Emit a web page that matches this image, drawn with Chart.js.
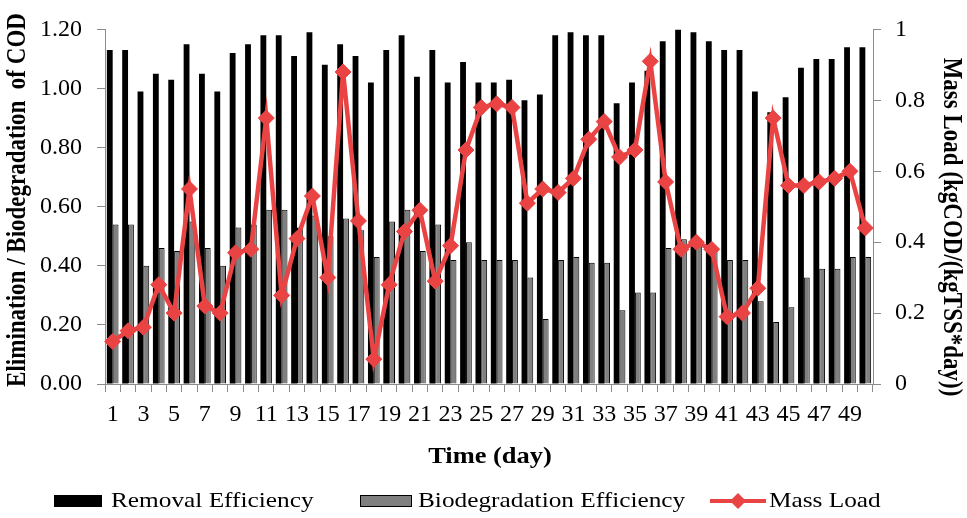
<!DOCTYPE html>
<html>
<head>
<meta charset="utf-8">
<script src="https://cdn.jsdelivr.net/npm/chart.js@4.4.1/dist/chart.umd.min.js"></script>
<style>
  html, body { margin: 0; padding: 0; background: #fff; }
  #wrap { width: 967px; height: 518px; }
</style>
</head>
<body>
<div id="wrap"><canvas id="codChart" width="967" height="518"></canvas></div>
<script>
// days 1..50
const days = Array.from({ length: 50 }, (_, i) => String(i + 1));

// removal efficiency (left axis)
const removal = [
  1.13, 1.13, 0.99, 1.05, 1.03, 1.15, 1.05, 0.99, 1.12, 1.15,
  1.18, 1.18, 1.11, 1.19, 1.08, 1.15, 1.11, 1.02, 1.13, 1.18,
  1.04, 1.13, 1.02, 1.09, 1.02, 1.02, 1.03, 0.96, 0.98, 1.18,
  1.19, 1.18, 1.18, 0.95, 1.02, 1.06, 1.16, 1.20, 1.19, 1.16,
  1.13, 1.13, 0.99, 0.92, 0.97, 1.07, 1.10, 1.10, 1.14, 1.14
];

// biodegradation efficiency (left axis)
const biodeg = [
  0.54, 0.54, 0.40, 0.46, 0.45, 0.55, 0.46, 0.40, 0.53, 0.54,
  0.59, 0.59, 0.53, 0.57, 0.50, 0.56, 0.52, 0.43, 0.55, 0.59,
  0.45, 0.54, 0.42, 0.48, 0.42, 0.42, 0.42, 0.36, 0.22, 0.42,
  0.43, 0.41, 0.41, 0.25, 0.31, 0.31, 0.46, 0.49, 0.48, 0.46,
  0.42, 0.42, 0.28, 0.21, 0.26, 0.36, 0.39, 0.39, 0.43, 0.43
];

// mass load, kgCOD/(kgTSS*day) (right axis)
const massLoad = [
  0.12, 0.15, 0.16, 0.28, 0.20, 0.55, 0.22, 0.20, 0.37, 0.38,
  0.75, 0.25, 0.41, 0.53, 0.30, 0.88, 0.46, 0.07, 0.28, 0.43,
  0.49, 0.29, 0.39, 0.66, 0.78, 0.79, 0.78, 0.51, 0.55, 0.54,
  0.58, 0.69, 0.74, 0.64, 0.66, 0.91, 0.57, 0.38, 0.40, 0.38,
  0.19, 0.20, 0.27, 0.75, 0.56, 0.56, 0.57, 0.58, 0.60, 0.44
];

const serif = "'Liberation Serif', 'Times New Roman', serif";
const axisGrey = '#8c8c8c';
const red = '#e94343';
const stretch = 1.15;

// axis titles + legend drawn by hand so they sit where we want
const extras = {
  id: 'extras',
  afterDraw(chart) {
    const ctx = chart.ctx;
    ctx.save();
    ctx.fillStyle = '#000';
    ctx.textBaseline = 'middle';
    ctx.textAlign = 'center';

    ctx.font = 'bold 23px ' + serif;
    // left title
    ctx.save();
    ctx.translate(18, 200);
    ctx.scale(stretch, 1);
    ctx.rotate(-Math.PI / 2);
    ctx.fillText('Elimination / Biodegradation  of COD', 0, 0);
    ctx.restore();
    // right title
    ctx.save();
    ctx.translate(951, 227);
    ctx.scale(stretch, 1);
    ctx.rotate(Math.PI / 2);
    ctx.fillText('Mass Load (kgCOD/(kgTSS*day))', 0, 0);
    ctx.restore();
    // x title
    ctx.save();
    ctx.translate(490, 457);
    ctx.scale(stretch, 1);
    ctx.fillText('Time (day)', 0, 0);
    ctx.restore();

    // legend
    const ly = 501;
    ctx.fillStyle = '#000';
    ctx.fillRect(54, ly - 6, 48, 12);
    ctx.fillStyle = '#808080';
    ctx.strokeStyle = '#000';
    ctx.lineWidth = 1;
    ctx.fillRect(360, ly - 6, 52, 12);
    ctx.strokeRect(360.5, ly - 5.5, 51, 11);
    ctx.strokeStyle = red;
    ctx.lineWidth = 4;
    ctx.beginPath();
    ctx.moveTo(710, ly);
    ctx.lineTo(766, ly);
    ctx.stroke();
    ctx.fillStyle = red;
    ctx.beginPath();
    ctx.moveTo(738, ly - 8);
    ctx.lineTo(746, ly);
    ctx.lineTo(738, ly + 8);
    ctx.lineTo(730, ly);
    ctx.closePath();
    ctx.fill();

    ctx.fillStyle = '#000';
    ctx.textAlign = 'left';
    ctx.font = '22px ' + serif;
    [['Removal Efficiency', 111], ['Biodegradation Efficiency', 418], ['Mass Load', 769]].forEach(([t, x]) => {
      ctx.save();
      ctx.translate(x, ly);
      ctx.scale(stretch, 1);
      ctx.fillText(t, 0, 0);
      ctx.restore();
    });
    ctx.restore();
  }
};

new Chart(document.getElementById('codChart'), {
  type: 'bar',
  data: {
    labels: days,
    datasets: [
      {
        type: 'line',
        label: 'Mass Load',
        data: massLoad,
        yAxisID: 'y1',
        borderColor: red,
        backgroundColor: red,
        borderWidth: 4.5,
        pointStyle: 'rectRot',
        pointRadius: 8,
        pointBorderWidth: 1,
        pointBackgroundColor: red,
        pointBorderColor: red,
        tension: 0,
        order: 0
      },
      {
        label: 'Removal Efficiency',
        data: removal,
        yAxisID: 'y',
        backgroundColor: '#000',
        borderColor: '#000',
        borderWidth: 0,
        order: 1
      },
      {
        label: 'Biodegradation Efficiency',
        data: biodeg,
        yAxisID: 'y',
        backgroundColor: '#808080',
        borderColor: '#000',
        borderWidth: 1,
        order: 1
      }
    ]
  },
  options: {
    responsive: false,
    animation: false,
    devicePixelRatio: 1,
    layout: { padding: { top: 18, left: 0, right: 0, bottom: 0 } },
    datasets: { bar: { categoryPercentage: 0.76, barPercentage: 1 } },
    plugins: { legend: { display: false }, tooltip: { enabled: false } },
    scales: {
      x: {
        offset: true,
        afterFit: s => { s.height = 134; },
        grid: { offset: true, drawOnChartArea: false, drawTicks: true, tickLength: 8, color: axisGrey },
        border: { display: true, color: axisGrey },
        ticks: {
          autoSkip: false,
          maxRotation: 0,
          padding: 8,
          color: '#000',
          font: { family: serif, size: 24 },
          callback: (v, i) => (i % 2 === 0 ? days[i] : '')
        }
      },
      y: {
        position: 'left',
        min: 0,
        max: 1.2,
        afterFit: s => { s.width = 105; },
        grid: { drawOnChartArea: false, drawTicks: true, tickLength: 8, color: axisGrey },
        border: { display: true, color: axisGrey },
        ticks: {
          stepSize: 0.2,
          padding: 15,
          color: '#000',
          font: { family: serif, size: 24 },
          callback: v => v.toFixed(2)
        }
      },
      y1: {
        position: 'right',
        min: 0,
        max: 1,
        afterFit: s => { s.width = 94; },
        grid: { drawOnChartArea: false, drawTicks: true, tickLength: 8, color: axisGrey },
        border: { display: true, color: axisGrey },
        ticks: {
          stepSize: 0.2,
          padding: 14,
          color: '#000',
          font: { family: serif, size: 24 },
          callback: v => (v === 0 ? '0' : v === 1 ? '1' : v.toFixed(1))
        }
      }
    }
  },
  plugins: [extras]
});
</script>
</body>
</html>
